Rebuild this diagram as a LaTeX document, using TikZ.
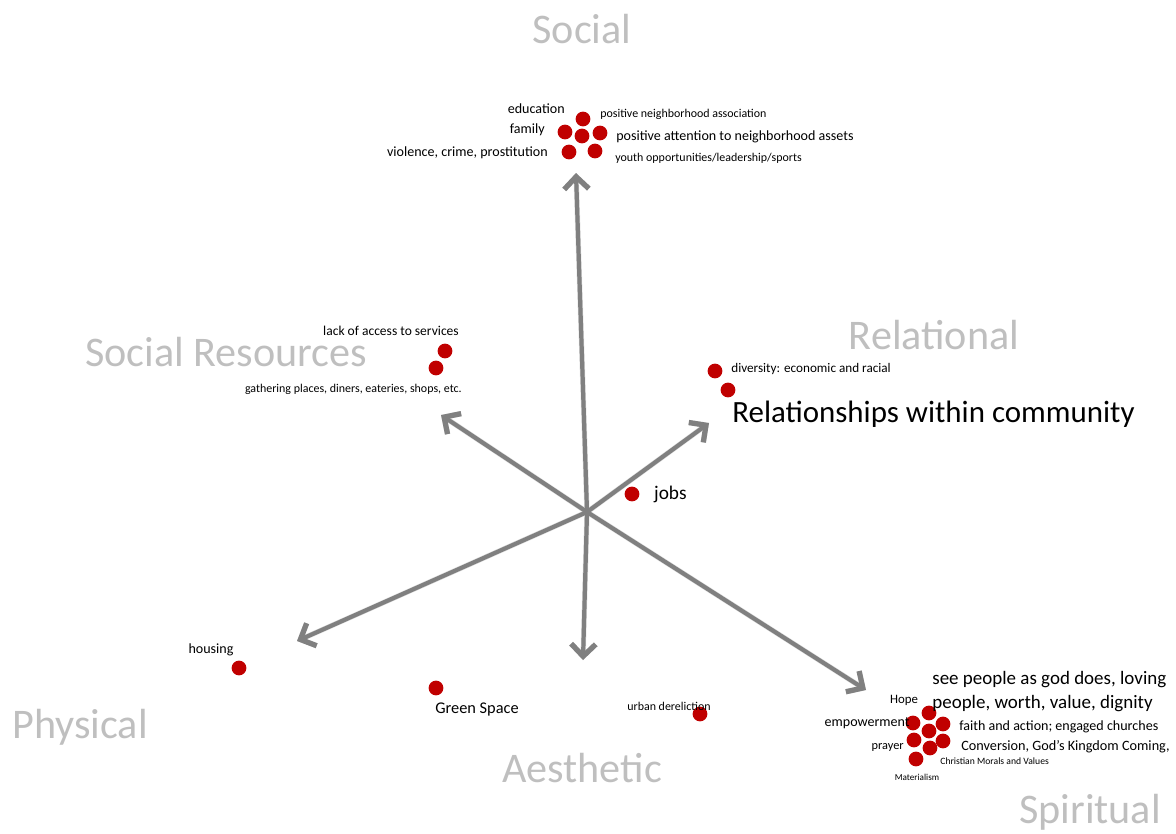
\documentclass[tikz,border=0pt]{standalone}
\usepackage{fontspec}
\setmainfont{Carlito}
\usetikzlibrary{positioning,arrows.meta}
\definecolor{dotred}{RGB}{192,0,0}
\definecolor{axisgray}{RGB}{128,128,128}
\definecolor{dimgray}{RGB}{191,191,191}
\tikzset{
  >={Straight Barb[length=7pt,width=14pt,line width=3pt]},
  axis/.style={->, line width=2.4pt, draw=axisgray},
  axisshade/.style={->, line width=3pt, draw=black!13},
  dot/.style={circle, fill=dotred, inner sep=0pt, minimum size=8.4pt},
  dim/.style={text=dimgray, inner sep=0pt, font=\fontsize{24}{28}\selectfont},
  lbl/.style={inner sep=0pt, font=\fontsize{#1}{#1}\selectfont},
}

\begin{document}
\begin{tikzpicture}[x=0.02cm, y=-0.02cm]
    \useasboundingbox (0,0) rectangle (1176,833);

    % axes from the centre
    \coordinate (c) at (587,512);
    \coordinate (soc) at (576,173);
    \coordinate (aes) at (583,660);
    \coordinate (res) at (441,415);
    \coordinate (rel) at (709,423);
    \coordinate (phy) at (297,641);
    \coordinate (spi) at (866,690);

    \begin{scope}[shift={(3,5)}]
      \foreach \t in {soc,aes,res,rel,phy,spi}
        \draw[axisshade] (c) -- (\t);
    \end{scope}
    \foreach \t in {soc,aes,res,rel,phy,spi}
      \draw[axis] (c) -- (\t);

    % dimension names
    \node[dim] (Soc) at (582,29) {Social};
    \node[dim] (Res) at (226,352) {Social Resources};
    \node[dim] (Rel) at (934,335) {Relational};
    \node[dim] (Phy) at (80,727) {Physical};
    \node[dim] (Aes) at (582,768) {Aesthetic};
    \node[dim] (Spi) at (1090,812) {Spiritual};

    % social
    \node[dot] (s1) at (583,119) {};
    \node[dot] (s2) at (565,132) {};
    \node[dot] (s3) at (582,136) {};
    \node[dot] (s4) at (600,133) {};
    \node[dot] (s5) at (569,152) {};
    \node[dot] (s6) at (595,151) {};
    \node[lbl=8, anchor=east] (edu) at (565,109) {education};
    \node[lbl=8, anchor=east] (fam) at (545,130) {family};
    \node[lbl=8, anchor=east] (vio) at (548,153) {violence, crime, prostitution};
    \node[lbl=6.8, anchor=west] (pna) at (600,114) {positive neighborhood association};
    \node[lbl=8, anchor=west] (pat) at (616,137) {positive attention to neighborhood assets};
    \node[lbl=6.8, anchor=west] (yth) at (615,158) {youth opportunities/leadership/sports};

    % social resources
    \node[dot] (r1) at (445,351) {};
    \node[dot] (r2) at (436,368) {};
    \node[lbl=7.7] (lack) at (391,331) {lack of access to services};
    \node[lbl=6.8, anchor=east] (gath) at (462,389) {gathering places, diners, eateries, shops, etc.};

    % relational
    \node[dot] (l1) at (715,371) {};
    \node[dot] (l2) at (728,390) {};
    \node[lbl=7.5, anchor=west] (div) at (731,369) {diversity: economic and racial};
    \node[lbl=17.6, anchor=west] (rwc) at (732,414) {Relationships within community};
    \node[dot] (j) at (632,494) {};
    \node[lbl=11, right=8pt of j] (jobs) {jobs};

    % physical and aesthetic
    \node[dot] (h) at (239,668) {};
    \node[lbl=8] (hous) at (211,650) {housing};
    \node[dot] (g) at (436,688) {};
    \node[lbl=9.3] (grn) at (477,709) {Green Space};
    \node[dot] (u) at (700,714) {};
    \node[lbl=6.8] (urb) at (669,706) {urban dereliction};

    % spiritual
    \node[dot] (p1) at (929,713) {};
    \node[dot] (p2) at (913,723) {};
    \node[dot] (p3) at (943,724) {};
    \node[dot] (p4) at (929,731) {};
    \node[dot] (p5) at (914,740) {};
    \node[dot] (p6) at (943,741) {};
    \node[dot] (p7) at (930,748) {};
    \node[dot] (p8) at (916,759) {};
    \node[lbl=10.8, anchor=west] (see) at (932,680) {see people as god does, loving};
    \node[lbl=10.8, anchor=west] (ppl) at (932,704) {people, worth, value, dignity};
    \node[lbl=7.3] (hope) at (904,700) {Hope};
    \node[lbl=8, anchor=east] (emp) at (910,723) {empowerment};
    \node[lbl=8, anchor=west] (fai) at (959,727) {faith and action; engaged churches};
    \node[lbl=7, anchor=east] (pray) at (904,747) {prayer};
    \node[lbl=8.1, anchor=west] (conv) at (961,747) {Conversion, God's Kingdom Coming,};
    \node[lbl=5.5, anchor=west] (chr) at (940,761) {Christian Morals and Values};
    \node[lbl=5.2] (mat) at (917,777) {Materialism};
  \end{tikzpicture}
\end{document}
